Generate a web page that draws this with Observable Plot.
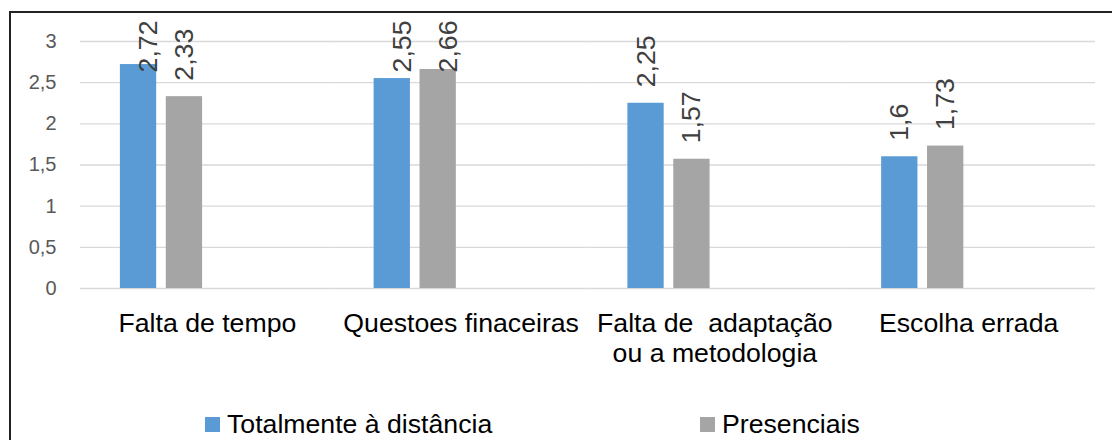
<!DOCTYPE html>
<html><head><meta charset="utf-8">
<script src="https://cdn.jsdelivr.net/npm/d3@7"></script>
<script src="https://cdn.jsdelivr.net/npm/@observablehq/plot@0.6"></script>
<style>
body{margin:0;background:#fff;font-family:"Liberation Sans",Arial,sans-serif;}
#wrap{position:relative;width:1112px;height:440px;overflow:hidden;background:#fff;}
#chart{position:absolute;left:0;top:0;}
#chart svg text{white-space:pre;}
#frame{position:absolute;left:9px;top:11px;width:1200px;height:600px;border-left:2px solid #222;border-top:2px solid #222;box-sizing:border-box;pointer-events:none;}
#legend{position:absolute;left:205px;top:409px;display:flex;font-size:26.67px;line-height:30px;color:#000;white-space:nowrap;}
.item{width:495px;display:flex;align-items:flex-start;}
.sw{width:15px;height:15px;margin-top:8px;margin-right:7px;flex:none;}
</style></head>
<body><div id="wrap"><div id="chart"></div><div id="legend"></div><div id="frame"></div></div>
<script>
const categories = ["Falta de tempo", "Questoes finaceiras", "Falta de  adaptação\nou a metodologia", "Escolha errada"];
const seriesNames = ["Totalmente à distância", "Presenciais"];
const emptySlots = ["Série 3", "Série 4"];
const valuesDistancia = [2.72, 2.55, 2.25, 1.6];
const valuesPresenciais = [2.33, 2.66, 1.57, 1.73];
const colors = ["#5B9BD5", "#A5A5A5"];
const yTicks = [0, 0.5, 1, 1.5, 2, 2.5, 3];

const W = 1112, H = 380;
const mTop = 41, mBottom = 92, mLeft = 80, mRight = 17;
const fs = 26.67;
const fmt = v => String(v).replace(".", ",");

const data = categories.flatMap((c, i) => [
  {category: c, series: seriesNames[0], value: valuesDistancia[i]},
  {category: c, series: seriesNames[1], value: valuesPresenciais[i]}
]);

const yMax = yTicks[yTicks.length - 1];
const yPix = v => mTop + (yMax - v) / yMax * (H - mTop - mBottom);
const ctx = document.createElement("canvas").getContext("2d");
ctx.font = `${fs}px "Liberation Sans"`;
const gap = 16, topLimit = 20;
const clamped = d => yPix(d.value) - gap - ctx.measureText(fmt(d.value)).width < topLimit;

const chart = Plot.plot({
  width: W, height: H,
  marginTop: mTop, marginBottom: mBottom, marginLeft: mLeft, marginRight: mRight,
  style: {fontFamily: '"Liberation Sans", Arial, sans-serif', background: "transparent", overflow: "visible"},
  fx: {domain: categories, padding: 0, axis: null, round: false},
  x: {domain: [...seriesNames, ...emptySlots], paddingInner: 0.209, paddingOuter: 0.869, axis: null, round: false},
  y: {domain: [0, yMax], label: null},
  color: {domain: seriesNames, range: colors},
  marks: [
    Plot.ruleY(yTicks, {stroke: "#D9D9D9", strokeWidth: 1.3}),
    Plot.axisY(yTicks, {tickSize: 0, tickPadding: 24, fontSize: 20, fill: "#595959", tickFormat: fmt, label: null}),
    Plot.barY(data, {fx: "category", x: "series", y: "value", fill: "series"}),
    Plot.text(data.filter(d => !clamped(d)), {fx: "category", x: "series", y: "value", text: d => fmt(d.value), rotate: -90, textAnchor: "start", dy: -gap, fontSize: fs, fill: "#404040"}),
    Plot.text(data.filter(clamped), {fx: "category", x: "series", frameAnchor: "top", text: d => fmt(d.value), rotate: -90, textAnchor: "end", dy: topLimit - mTop, fontSize: fs, fill: "#404040"}),
    Plot.text(categories, {fx: d => d, text: d => d, frameAnchor: "bottom", lineAnchor: "top", dy: 22, fontSize: fs, lineHeight: 1.125, fill: "#000"})
  ]
});
document.getElementById("chart").appendChild(chart);

const legend = document.getElementById("legend");
seriesNames.forEach((s, i) => {
  const item = document.createElement("div");
  item.className = "item";
  const sw = document.createElement("span");
  sw.className = "sw";
  sw.style.background = colors[i];
  const t = document.createElement("span");
  t.textContent = s;
  item.appendChild(sw); item.appendChild(t);
  legend.appendChild(item);
});
</script>
</body></html>
